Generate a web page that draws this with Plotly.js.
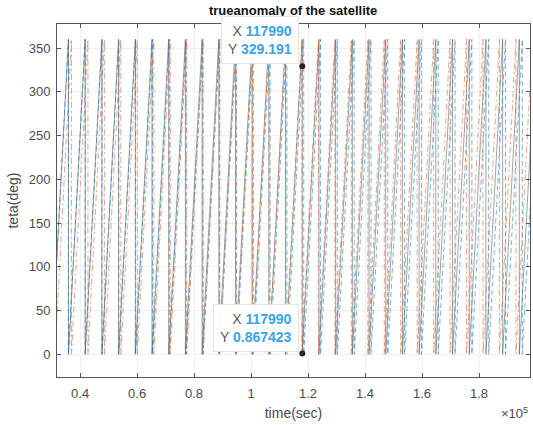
<!DOCTYPE html>
<html>
<head>
<meta charset="utf-8">
<script src="https://cdn.plot.ly/plotly-3.0.1.min.js"></script>
<style>
  html, body { margin: 0; padding: 0; background: #fff; }
  #chart { width: 533px; height: 425px; }
</style>
</head>
<body>
<div id="chart"></div>
<script>
// Times (s) at which each true-anomaly trace wraps from 360 deg back to 0 deg.
const wrapTimesBlack = [30076, 35936, 41796, 47656, 53516, 59376, 65236, 71096, 76956, 82816,
  88676, 94536, 100396, 106256, 112116, 117976, 123836, 129696, 135556, 141416,
  147276, 153136, 158996, 164856, 170716, 176576, 182436, 188296, 194156, 200016];
const wrapTimesBlue = [29995, 35895, 41795, 47695, 53595, 59495, 65395, 71295, 77195, 83095,
  88995, 94895, 100795, 106695, 112595, 118495, 124395, 130295, 136195, 142095,
  147995, 153895, 159795, 165695, 171595, 177495, 183395, 189295, 195195, 201095];
const wrapTimesOrange = [31209, 36986, 42763, 48540, 54317, 60094, 65871, 71648, 77425, 83202,
  88979, 94756, 100533, 106310, 112087, 117864, 123641, 129418, 135195, 140972,
  146749, 152526, 158303, 164080, 169857, 175634, 181411, 187188, 192965, 198742, 204519];

// Angle span of one revolution (deg)
const angleLow = 0;
const angleHigh = 360;

// Data tips
const tipX = [117990, 117990];
const tipY = [329.191, 0.867423];
const tipText = ['329.191', '0.867423'];

// Axis ticks
const xTickVals = [40000, 60000, 80000, 100000, 120000, 140000, 160000, 180000];
const xTickText = ['0.4', '0.6', '0.8', '1', '1.2', '1.4', '1.6', '1.8'];
const yTickVals = [0, 50, 100, 150, 200, 250, 300, 350];

// Turn a list of wrap times into a sawtooth polyline: ramp 0 -> 360 between wraps,
// then a vertical drop back to 0.
function sawtooth(wraps) {
  const x = [], y = [];
  for (let i = 0; i < wraps.length - 1; i++) {
    x.push(wraps[i]);     y.push(angleLow);
    x.push(wraps[i + 1]); y.push(angleHigh);
  }
  return { x, y };
}

const sBlack = sawtooth(wrapTimesBlack);
const sBlue = sawtooth(wrapTimesBlue);
const sOrange = sawtooth(wrapTimesOrange);

const FONT = 'Liberation Sans, Arial, sans-serif';

const traces = [
  { x: sBlack.x, y: sBlack.y, type: 'scatter', mode: 'lines',
    line: { color: 'rgba(60,60,60,0.6)', width: 0.8 }, hoverinfo: 'skip' },
  { x: sBlue.x, y: sBlue.y, type: 'scatter', mode: 'lines',
    line: { color: 'rgba(0,114,189,0.6)', width: 0.9, dash: '5px,3px' }, hoverinfo: 'skip' },
  { x: sOrange.x, y: sOrange.y, type: 'scatter', mode: 'lines',
    line: { color: 'rgba(217,83,25,0.6)', width: 0.9, dash: '6px,3px,2px,3px' }, hoverinfo: 'skip' },
  { x: tipX, y: tipY, type: 'scatter', mode: 'markers',
    marker: { color: '#262626', size: 6 }, hoverinfo: 'skip', cliponaxis: false }
];

const tipAnnotations = tipX.map((tx, i) => ({
  x: tx, y: tipY[i], xref: 'x', yref: 'y',
  xanchor: 'right', yanchor: 'bottom', xshift: -3, yshift: 2,
  showarrow: false, align: 'right',
  bgcolor: 'rgba(255,255,255,0.97)', bordercolor: '#e4e4e4', borderwidth: 1, borderpad: 6,
  font: { family: FONT, size: 14, color: '#5a5a5a' },
  text: 'X <b style="color:#3aa3ea">' + tx + '</b><br>' +
        'Y <b style="color:#3aa3ea">' + tipText[i] + '</b>'
}));

const axisCommon = {
  showline: true, linecolor: '#555', linewidth: 1, mirror: 'ticks',
  ticks: 'inside', ticklen: 4, tickcolor: '#555',
  showgrid: true, gridcolor: '#f0f0f0', gridwidth: 1, zeroline: false,
  tickfont: { family: FONT, size: 13, color: '#4a4a4a' }
};

const layout = {
  width: 533, height: 425,
  margin: { l: 57, r: 3, t: 24, b: 48 },
  paper_bgcolor: '#fff', plot_bgcolor: '#fff',
  showlegend: false,
  title: { text: '<b>trueanomaly of the satellite</b>', x: 0.55, xanchor: 'center', y: 0.985, yanchor: 'top',
           font: { family: FONT, size: 13, color: '#111' } },
  xaxis: Object.assign({}, axisCommon, {
    range: [31900, 197900], tickmode: 'array', tickvals: xTickVals, ticktext: xTickText,
    ticklabelstandoff: 4,
    title: { text: 'time(sec)', standoff: 8, font: { family: FONT, size: 14, color: '#4a4a4a' } }
  }),
  yaxis: Object.assign({}, axisCommon, {
    range: [-26, 377.5], tickmode: 'array', tickvals: yTickVals,
    ticklabelstandoff: 3,
    title: { text: 'teta(deg)', standoff: 6, font: { family: FONT, size: 14, color: '#4a4a4a' } }
  }),
  annotations: tipAnnotations.concat([
    { xref: 'paper', yref: 'paper', x: 1.0, y: -0.075, xanchor: 'right', yanchor: 'top',
      showarrow: false, text: '×10<sup>5</sup>',
      font: { family: FONT, size: 13, color: '#4a4a4a' } }
  ])
};

Plotly.newPlot('chart', traces, layout, { displayModeBar: false, staticPlot: true });
</script>
</body>
</html>
